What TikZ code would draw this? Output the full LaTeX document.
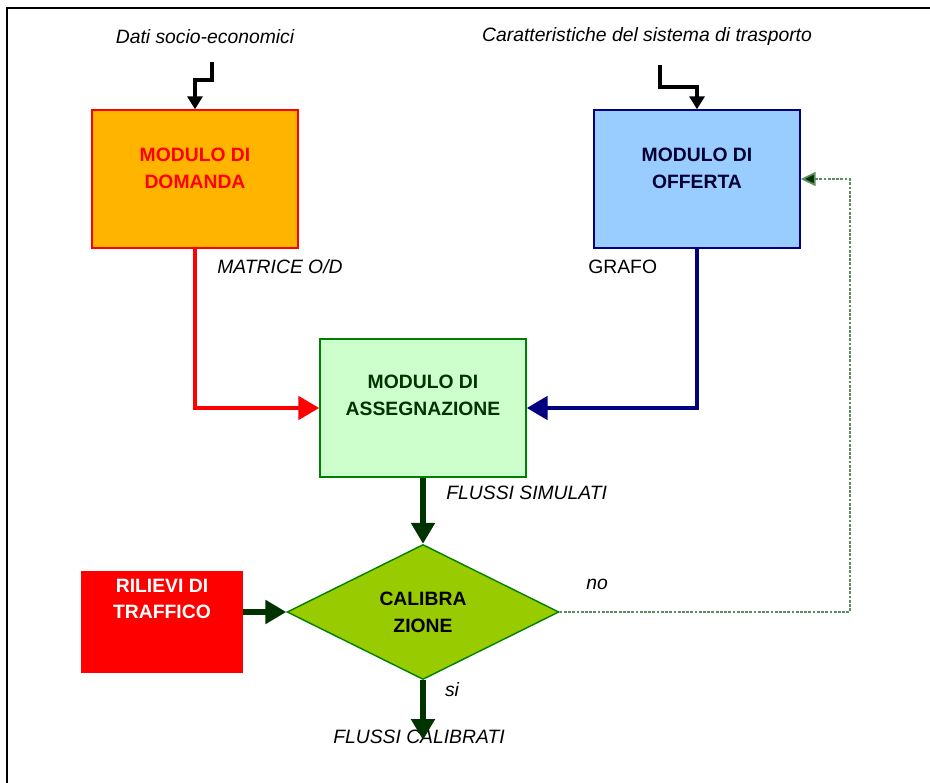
\documentclass[tikz,border=0pt]{standalone}
\usepackage{fontspec}
\setmainfont{Liberation Sans}
\usetikzlibrary{scopes,shapes.geometric,arrows.meta}
\definecolor{arancio}{HTML}{FFB400}
\definecolor{celeste}{HTML}{99CCFF}
\definecolor{blu}{HTML}{000080}
\definecolor{verdino}{HTML}{CCFFCC}
\definecolor{verde}{HTML}{008000}
\definecolor{oliva}{HTML}{99CC00}
\definecolor{scuro}{HTML}{003300}
\definecolor{grigioverde}{HTML}{5E8C5E}
\begin{document}
\begin{tikzpicture}[
    x=0.02cm, y=-0.02cm,
    M/.style={rectangle,draw,line width=0.8pt,minimum width=4.12cm,minimum height=2.76cm,inner sep=0pt},
    txt/.style={font=\fontsize{11}{15.3}\selectfont\bfseries,align=center,inner sep=0pt},
    lab/.style={font=\fontsize{11}{13}\selectfont\itshape,inner sep=0pt},
    input/.style={line width=2.2pt,>={Triangle[length=0.26cm,width=0.3cm]}},
    flow/.style={line width=2.8pt,>={Triangle[length=0.42cm,width=0.46cm]}},
    fb/.style={draw=grigioverde,line width=1pt,dash pattern=on 1.6pt off 0.8pt,
        >={Triangle[length=0.3cm,width=0.28cm,fill=scuro]}},
]
\useasboundingbox (0,0) rectangle (930,783);
\draw[line width=1.4pt] (7,783) -- (7,8) -- (930,8);

% moduli
\node[M,draw=red,fill=arancio,
    label={[txt,text=red,yshift=0.22cm]center:MODULO DI\\DOMANDA}] (dom) at (195,179) {};
\node[M,draw=blu,fill=celeste,
    label={[txt,text=blu!40!black,yshift=0.22cm]center:MODULO DI\\OFFERTA}] (off) at (697,179) {};
\node[M,draw=verde,fill=verdino,
    label={[txt,text=scuro,yshift=0.26cm]center:MODULO DI\\ASSEGNAZIONE}] (ass) at (423,408) {};
\node[diamond,draw=verde,fill=oliva,line width=0.8pt,aspect=2,inner sep=0pt,
    minimum width=5.44cm,minimum height=2.7cm,txt,text=black] (cal) at (423,612) {CALIBRA\\ZIONE};
\node[rectangle,fill=red,minimum width=3.24cm,minimum height=2.06cm,inner sep=0pt,
    label={[txt,text=white,yshift=0.46cm]center:RILIEVI DI\\TRAFFICO}] (ril) at (162,622) {};

% testi
\node[lab] (soc) at (205,37) {Dati socio-economici};
\node[lab] (car) at (647,37) {Caratteristiche del sistema di trasporto};
\node[lab,anchor=west] (mat) at (217,267) {MATRICE O/D};
\node[lab,anchor=west,font=\fontsize{11}{13}\selectfont] (gra) at (588,267) {GRAFO};
\node[lab,anchor=west] (sim) at (446,493) {FLUSSI SIMULATI};
\node[lab] (no) at (597,584) {no};
\node[lab] (si) at (452,690) {si};
\node[lab] (cbr) at (419,737) {FLUSSI CALIBRATI};

\coordinate (inD) at (212,62);
\coordinate (inO) at (660,65);
\coordinate (out) at (423,740);

{[input,->]
    \draw (inD) -- ++(0,18) -| (dom.north);
    \draw (inO) -- ++(0,22) -| (off.north);
}
{[flow,->]
    \draw[red] (dom.south) |- (ass.west);
    \draw[blu] (off.south) |- (ass.east);
    \draw[scuro,line width=3.3pt] (ass.south) -- (cal.north);
    \draw[scuro,line width=3.3pt] (ril.east |- cal.west) -- (cal.west);
    \draw[scuro,line width=3.3pt] (cal.south) -- (out);
}
\draw[fb,->] (cal.east) -- ++(290,0) |- (off.east);
\end{tikzpicture}
\end{document}
